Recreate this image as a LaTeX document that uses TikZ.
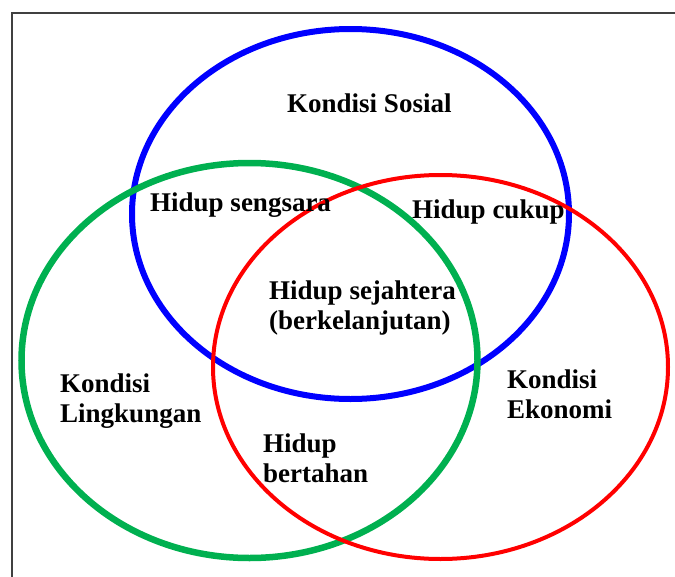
\documentclass[tikz,border=0pt]{standalone}
\usepackage{fontspec}
\setmainfont{Liberation Serif}
\usepackage{tikz}
\usepackage{xcolor}
\definecolor{vgreen}{RGB}{0,176,80}

\begin{document}
\begin{tikzpicture}[x=1pt,y=-1pt]
\useasboundingbox (0,0) rectangle (675,576);
\clip (0,0) rectangle (675,576);

\draw[line width=2pt, black!75] (12,13) rectangle (700,600);

\draw[line width=6pt, blue] (350.5,214) ellipse [x radius=218.5, y radius=185];
\draw[line width=6.5pt, vgreen] (249.5,360.5) ellipse [x radius=228, y radius=197.5];
\draw[line width=4pt, red] (440.5,367) ellipse [x radius=227.5, y radius=192];

\begin{scope}[every node/.style={inner sep=0pt, align=left, font=\bfseries\fontsize{27}{29.5}\selectfont}]

\node[anchor=base west] (sosial) at (287,112) {Kondisi Sosial};
\node[anchor=base west] (sengsara) at (150,211) {Hidup sengsara};
\node[anchor=base west] (cukup) at (412,218) {Hidup cukup};
\node[anchor=base west] (sejahtera) at (269,329) {Hidup sejahtera\\(berkelanjutan)};
\node[anchor=base west] (lingkungan) at (60,422) {Kondisi\\Lingkungan};
\node[anchor=base west] (ekonomi) at (507,418) {Kondisi\\Ekonomi};
\node[anchor=base west] (bertahan) at (263,482) {Hidup\\bertahan};

\end{scope}

\end{tikzpicture}
\end{document}
